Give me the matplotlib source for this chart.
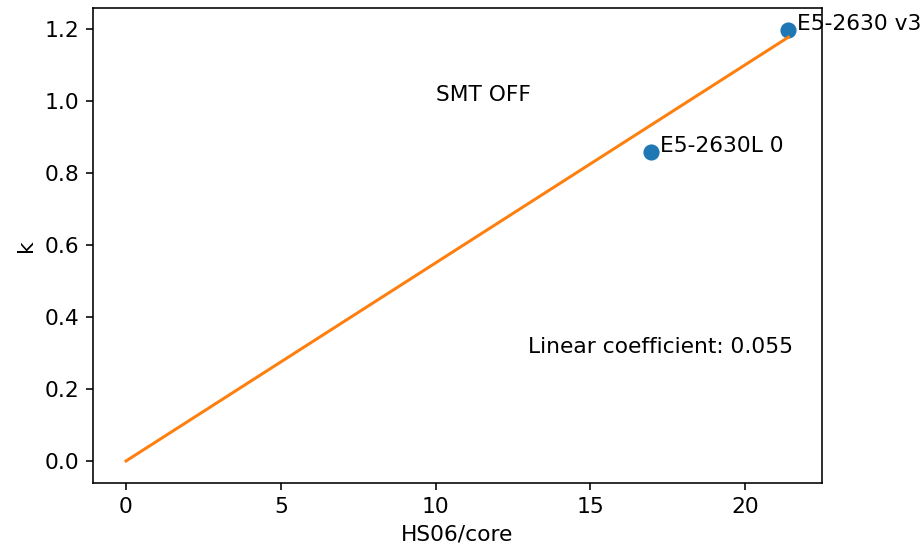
import matplotlib
matplotlib.use('Agg')
import matplotlib.pyplot as plt
import numpy as np

plt.rcParams['font.size'] = 10.85

# CPU benchmark points (HS06 per core vs k)
cpu_names = ['E5-2630L 0', 'E5-2630 v3']
hs06_core = [16.95, 21.4]
k_values = [0.857, 1.197]

# linear fit through origin
coef = 0.055
fit_x = [0, 21.4]

fig = plt.figure(figsize=(921 / 144, 549 / 144), dpi=144)
ax = fig.add_axes([0.1009, 0.1211, 0.892 - 0.1009, 0.9847 - 0.1211])

ax.scatter(hs06_core, k_values, s=50, color='#1f77b4')
ax.plot(fit_x, np.array(fit_x) * coef, color='#ff7f0e')

for name, x, y in zip(cpu_names, hs06_core, k_values):
    ax.annotate(name, (x, y), xytext=(4.5, 0), textcoords='offset points')

ax.text(10, 1.0, 'SMT OFF')
ax.text(13, 0.3, 'Linear coefficient: %.3f' % coef)

ax.set_xlabel('HS06/core')
ax.set_ylabel('k')

fig.savefig('out.png', dpi=144)
